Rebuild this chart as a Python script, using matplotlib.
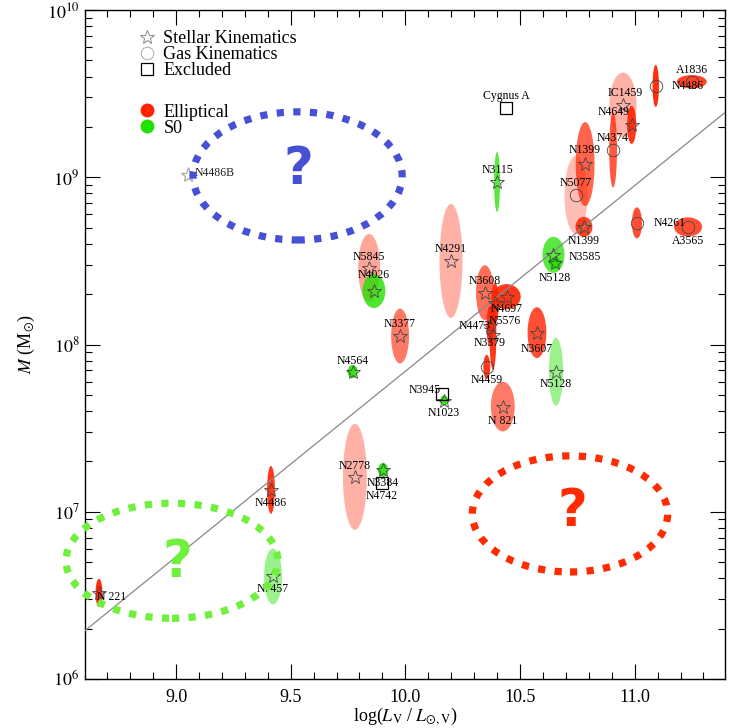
import matplotlib
matplotlib.use('Agg')
import matplotlib.pyplot as plt
from matplotlib.patches import Ellipse
from matplotlib.lines import Line2D
from matplotlib.ticker import MultipleLocator, FixedLocator, FixedFormatter
import numpy as np

plt.rcParams['font.family'] = ['Liberation Serif', 'DejaVu Serif']
plt.rcParams['mathtext.fontset'] = 'stix'

# galaxies with mass measurements: log L_V, log M, 1-sigma half widths
names = ['N4486', 'A1836', 'IC1459', 'N4649', 'N4374', 'N1399', 'N5077', 'N1399',
         'N4261', 'A3565', 'N3115', 'N4291', 'N3585', 'N5128', 'N5845', 'N4026',
         'N3377', 'N4564', 'N1023', 'N3608', 'N4697', 'N5576', 'N4473', 'N3379',
         'N4459', 'N3607', 'N5128', 'N 821', 'N2778', 'N3384', 'N4486', 'N7457', 'N 221']
log_l = [11.092, 11.249, 10.949, 10.987, 10.906, 10.784, 10.744, 10.779,
         11.010, 11.233, 10.400, 10.199, 10.646, 10.653, 9.842, 9.863,
         9.977, 9.770, 10.169, 10.347, 10.442, 10.391, 10.369, 10.382,
         10.355, 10.574, 10.657, 10.425, 9.780, 9.903, 9.414, 9.423, 8.664]
log_m = [9.546, 9.571, 9.432, 9.313, 9.163, 9.079, 8.894, 8.703,
         8.727, 8.703, 8.972, 8.500, 8.536, 8.488, 8.458, 8.320,
         8.051, 7.838, 7.665, 8.310, 8.286, 8.249, 8.111, 8.057,
         7.866, 8.071, 7.838, 7.629, 7.209, 7.250, 7.131, 6.613, 6.515]
err_l = [0.014, 0.065, 0.059, 0.020, 0.017, 0.041, 0.050, 0.037,
         0.022, 0.061, 0.013, 0.050, 0.048, 0.026, 0.048, 0.050,
         0.039, 0.022, 0.017, 0.039, 0.061, 0.017, 0.015, 0.015,
         0.015, 0.041, 0.031, 0.052, 0.052, 0.022, 0.017, 0.039, 0.015]
err_m = [0.126, 0.040, 0.194, 0.114, 0.224, 0.251, 0.233, 0.060,
         0.093, 0.057, 0.179, 0.341, 0.108, 0.036, 0.203, 0.102,
         0.164, 0.039, 0.030, 0.164, 0.075, 0.120, 0.120, 0.209,
         0.072, 0.152, 0.203, 0.149, 0.317, 0.042, 0.143, 0.167, 0.084]
gal_type = ['E', 'E', 'E', 'E', 'E', 'E', 'E', 'E',
            'E', 'E', 'S0', 'E', 'S0', 'S0', 'E', 'S0',
            'E', 'S0', 'S0', 'E', 'E', 'E', 'E', 'E',
            'E', 'E', 'S0', 'E', 'E', 'S0', 'E', 'S0', 'E']
method = ['gas', 'gas', 'star', 'star', 'gas', 'star', 'gas', 'star',
          'gas', 'gas', 'star', 'star', 'star', 'star', 'star', 'star',
          'star', 'star', 'star', 'star', 'star', 'star', 'star', 'star',
          'gas', 'star', 'star', 'star', 'star', 'star', 'star', 'star', 'star']

excl_names = ['Cygnus A', 'N3945', 'N4742']
excl_l = [10.439, 10.159, 9.897]
excl_m = [9.416, 7.703, 7.174]

grey_name = 'N4486B'
grey_l, grey_m = 9.052, 9.014

# M-L fit: log M = 8.95 + 1.11 (log L - 11)
fit_a, fit_b = 8.95, 1.11

# shading of each ellipse and label offsets (pixels)
shade = [0.95, 0.85, 0.35, 0.9, 0.75, 0.7, 0.3, 0.85,
         0.8, 0.8, 0.75, 0.35, 0.75, 0.9, 0.4, 0.8,
         0.6, 0.9, 0.9, 0.65, 0.9, 0.9, 0.9, 0.9,
         0.9, 0.8, 0.45, 0.6, 0.35, 0.9, 0.9, 0.45, 0.95]
label_off = [(32, 0), (0, 12), (2, 12), (-18, 13), (0, 12), (-1, 14), (0, 12), (0, -14),
             (33, 0), (0, -14), (0, 12), (0, 12), (31, -2), (0, -15), (0, 11), (0, 16),
             (0, 12), (0, 11), (0, -12), (0, 12), (0, -12), (10, -18), (-15, 0), (-3, -8),
             (0, -13), (0, -16), (0, -12), (0, -14), (0, 11), (0, -13), (0, -13), (0, -13), (-2, -4)]
excl_off = [(0, 12), (-17, 4), (0, -13)]

colors = {'E': '#ff2200', 'S0': '#22e000'}
mark_edge = '#444444'

fig = plt.figure(figsize=(7.36, 7.28), dpi=100)
ax = fig.add_axes([85 / 736, 49 / 728, 640 / 736, 669 / 728])

for i in range(len(names)):
    e = Ellipse((log_l[i], log_m[i]), 2 * err_l[i], 2 * err_m[i], facecolor=colors[gal_type[i]],
                edgecolor='none', alpha=shade[i], zorder=2)
    ax.add_patch(e)

xx = np.array([8.6, 11.4])
ax.plot(xx, fit_a + fit_b * (xx - 11.0), color='#888888', lw=0.9, zorder=3)

for i in range(len(names)):
    mk = '*' if method[i] == 'star' else 'o'
    ms = 10 if mk == '*' else 9
    ax.plot(log_l[i], log_m[i], marker=mk, ms=ms, mfc='none', mec=mark_edge, mew=0.6, zorder=4)
    ha = 'left' if names[i] == 'N 221' else 'center'
    ax.annotate(names[i], (log_l[i], log_m[i]), xytext=label_off[i], textcoords='offset pixels',
                ha=ha, va='center', fontsize=8.5, zorder=5)

for i in range(len(excl_names)):
    ax.plot(excl_l[i], excl_m[i], marker='s', ms=8, mfc='none', mec='black', mew=0.9, zorder=4)
    ax.annotate(excl_names[i], (excl_l[i], excl_m[i]), xytext=excl_off[i], textcoords='offset pixels',
                ha='center', va='center', fontsize=8.5, zorder=5)

ax.plot(grey_l, grey_m, marker='*', ms=11, mfc='none', mec='#aaaaaa', mew=0.9, zorder=4)
ax.annotate(grey_name, (grey_l, grey_m), xytext=(7, 2), textcoords='offset pixels',
            ha='left', va='center', fontsize=8.5, color='#222222', zorder=5)

# regions with no known galaxies
regions = [((9.53, 9.008), 0.912, 0.766, '#4650d4', (9.532, 9.044)),
           ((8.982, 6.707), 0.924, 0.688, '#6ff03c', (9.004, 6.695)),
           ((10.718, 6.987), 0.852, 0.694, '#ff2a00', (10.727, 7.0))]
for cen, w, h, c, qpos in regions:
    ring = Ellipse(cen, w, h, fill=False, edgecolor=c, lw=5.2, linestyle=(0, (1, 1.3)),
                   capstyle='butt', clip_on=False, zorder=6)
    ax.add_patch(ring)
    ax.text(qpos[0], qpos[1], '?', color=c, fontsize=37, fontweight='bold', family='DejaVu Sans',
            ha='center', va='center', zorder=7)

ax.set_xlim(8.603, 11.394)
ax.set_ylim(6.0, 10.0)
ax.xaxis.set_major_locator(MultipleLocator(0.5))
ax.xaxis.set_minor_locator(MultipleLocator(0.1))
ax.xaxis.set_major_formatter(plt.FuncFormatter(lambda v, p: '%.1f' % v))
decades = [6, 7, 8, 9, 10]
ax.yaxis.set_major_locator(FixedLocator(decades))
ax.yaxis.set_major_formatter(FixedFormatter(['$10^{%d}$' % d for d in decades]))
ax.yaxis.set_minor_locator(FixedLocator([d + np.log10(k) for d in decades[:-1] for k in range(2, 10)]))
ax.tick_params(which='both', direction='in', top=True, right=True, width=0.8)
ax.tick_params(which='major', length=10.5, labelsize=13)
ax.tick_params(axis='x', which='major', pad=7)
ax.tick_params(axis='y', which='major', pad=4)
ax.tick_params(which='minor', length=5)
for s in ax.spines.values():
    s.set_linewidth(1.0)

ax.set_xlabel(r'log($L_{\rm V}$ / $L_{\odot,{\rm V}}$)', fontsize=13, labelpad=0)
ax.set_ylabel(r'$M$ (M$_{\odot}$)', fontsize=13)
ax.yaxis.set_label_coords(-0.075, 0.5)

h1 = [Line2D([], [], ls='none', marker='*', ms=10, mfc='none', mec='#888888', mew=0.7),
      Line2D([], [], ls='none', marker='o', ms=9, mfc='none', mec='#aaaaaa', mew=0.7),
      Line2D([], [], ls='none', marker='s', ms=9, mfc='none', mec='black', mew=0.9)]
leg1 = ax.legend(h1, ['Stellar Kinematics', 'Gas Kinematics', 'Excluded'], loc='upper left',
                 bbox_to_anchor=(0.083, 0.97), frameon=False, fontsize=13, handlelength=1.0,
                 handletextpad=0.4, labelspacing=-0.05, borderaxespad=0, borderpad=0)
ax.add_artist(leg1)
h2 = [Line2D([], [], ls='none', marker='o', ms=10, mfc='#ff2200', mec='none'),
      Line2D([], [], ls='none', marker='o', ms=10, mfc='#22e000', mec='none')]
ax.legend(h2, ['Elliptical', 'S0'], loc='upper left', bbox_to_anchor=(0.083, 0.86), frameon=False,
          fontsize=13, handlelength=1.0, handletextpad=0.4, labelspacing=-0.05, borderaxespad=0,
          borderpad=0)

fig.savefig('out.png', dpi=100)
